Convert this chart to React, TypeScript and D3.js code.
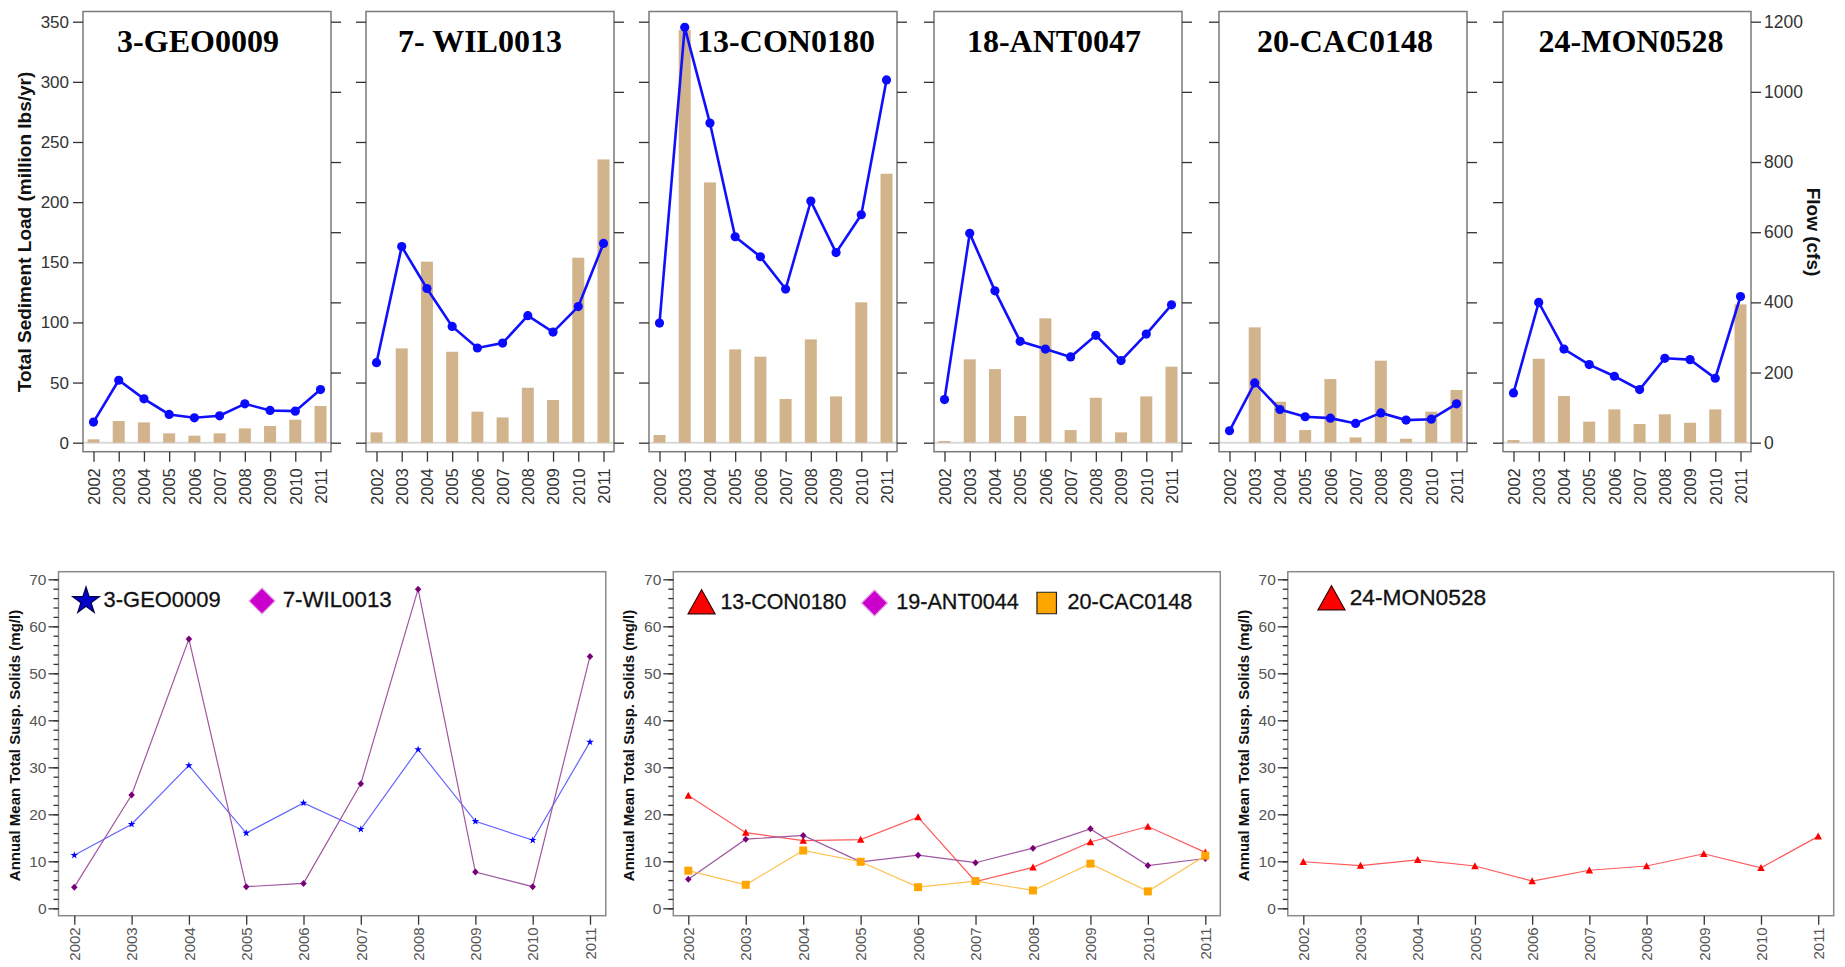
import * as d3 from "d3"
import { useEffect, useRef } from "react"

const years = ["2002", "2003", "2004", "2005", "2006", "2007", "2008", "2009", "2010", "2011"]

// top row: sediment load (bars, left axis) and flow (line, right axis)
const topSites = ["3-GEO0009", "7- WIL0013", "13-CON0180", "18-ANT0047", "20-CAC0148", "24-MON0528"]

const loadGEO0009 = [2.8, 18, 16.9, 7.8, 5.8, 7.8, 11.9, 13.9, 19.1, 30.5]
const loadWIL0013 = [8.6, 78.4, 150.5, 75.6, 25.8, 21, 45.7, 35.5, 153.8, 235.5]
const loadCON0180 = [6.4, 343, 216.4, 77.6, 71.5, 36.3, 85.9, 38.5, 116.7, 223.6]
const loadANT0047 = [1.4, 69.3, 61.2, 22.2, 103.4, 10.5, 37.4, 8.6, 38.5, 63.2]
const loadCAC0148 = [0, 95.9, 34.1, 10.5, 52.9, 4.4, 68.2, 3.3, 25.8, 43.8]
const loadMON0528 = [2.2, 69.8, 38.8, 17.5, 27.7, 15.5, 23.6, 16.6, 27.7, 115]

const flowGEO0009 = [58.7, 178, 125, 80.5, 71, 76.7, 110.8, 91.9, 90, 151.5]
const flowWIL0013 = [228, 559, 439.5, 331.5, 270, 284, 362, 315.4, 388, 568]
const flowCON0180 = [341, 1184, 911, 587, 530, 438, 688.6, 541.8, 649.7, 1034]
const flowANT0047 = [123, 596.7, 432.8, 288.9, 267, 244.4, 306, 234, 309.7, 393]
const flowCAC0148 = [34, 170.5, 94.7, 73.9, 70, 55, 85, 64.4, 67, 110.8]
const flowMON0528 = [142, 399.7, 267, 222.6, 189.4, 151.5, 240.6, 236.8, 183.7, 416.7]

const loads = [loadGEO0009, loadWIL0013, loadCON0180, loadANT0047, loadCAC0148, loadMON0528]
const flows = [flowGEO0009, flowWIL0013, flowCON0180, flowANT0047, flowCAC0148, flowMON0528]

const loadTicks = [0, 50, 100, 150, 200, 250, 300, 350]
const flowTicks = [0, 200, 400, 600, 800, 1000, 1200]

// bottom row: annual mean total suspended solids
const tssTicks = [0, 10, 20, 30, 40, 50, 60, 70]
const tssGEO0009 = [11.3, 17.9, 30.4, 16.0, 22.4, 16.8, 33.8, 18.5, 14.5, 35.4]
const tssWIL0013 = [4.5, 24.1, 57.3, 4.6, 5.3, 26.5, 67.9, 7.7, 4.6, 53.6]
const tssCON0180 = [24.0, 16.1, 14.4, 14.6, 19.4, 5.7, 8.7, 14.1, 17.4, 11.9]
const tssANT0044 = [6.2, 14.7, 15.5, 9.9, 11.3, 9.7, 12.8, 16.9, 9.1, 10.6]
const tssCAC0148 = [8.0, 5.0, 12.3, 9.9, 4.5, 5.8, 3.8, 9.5, 3.6, 11.2]
const tssMON0528 = [9.9, 9.1, 10.3, 9.0, 5.8, 8.1, 9.0, 11.6, 8.6, 15.3]

const bottomPanels = [
    [
        { name: "3-GEO0009", values: tssGEO0009, shape: "star", line: "#6464ff", mark: "#0000ff", legend: "#0000c8", legendStroke: "#00004a" },
        { name: "7-WIL0013", values: tssWIL0013, shape: "diamond", line: "#a057a0", mark: "#7a007a", legend: "#cc00cc", legendStroke: "#e6a6e6" },
    ],
    [
        { name: "13-CON0180", values: tssCON0180, shape: "triangle", line: "#ff5a5a", mark: "#ff0000", legend: "#ff0000", legendStroke: "#3a0000" },
        { name: "19-ANT0044", values: tssANT0044, shape: "diamond", line: "#a057a0", mark: "#7a007a", legend: "#cc00cc", legendStroke: "#e6a6e6" },
        { name: "20-CAC0148", values: tssCAC0148, shape: "square", line: "#ffc24f", mark: "#ffa500", legend: "#ffa500", legendStroke: "#222222" },
    ],
    [
        { name: "24-MON0528", values: tssMON0528, shape: "triangle", line: "#ff5a5a", mark: "#ff0000", legend: "#ff0000", legendStroke: "#3a0000" },
    ],
]

const font = "'Liberation Sans', Arial, sans-serif"

const shapePath = (kind, w, h) => {
    if (kind === "star") return d3.symbol(d3.symbolStar, (w / 2) * (w / 2) / 0.8908)()
    if (kind === "diamond") return `M0,${-h / 2}L${w / 2},0L0,${h / 2}L${-w / 2},0Z`
    if (kind === "triangle") return `M0,${-h * 0.55}L${w / 2},${h * 0.45}L${-w / 2},${h * 0.45}Z`
    return `M${-w / 2},${-h / 2}h${w}v${h}h${-w}Z`
}

const styleAxis = (g, size, color) => {
    g.select(".domain").remove()
    g.selectAll("line").attr("stroke", "#333").attr("stroke-width", 1.3)
    g.selectAll("text").attr("font-family", font).attr("font-size", size).attr("fill", color)
}

const App = () => {
    const svgRef = useRef(null)

    useEffect(() => {
        const svg = d3.select(svgRef.current)
        svg.selectAll("*").remove()

        // ---------- top row ----------
        const topLefts = [83, 366, 649, 934, 1219, 1503]
        const topW = 248
        const topTop = 11.5, topBottom = 451.7
        const titleShift = [-9, -10, 13, -4, 2, 4]
        const yLoad = d3.scaleLinear().domain([0, 350]).range([442.7, 21.7])
        const yFlow = d3.scaleLinear().domain([0, 1200]).range([442.7, 21.7])

        topSites.forEach((site, i) => {
            const left = topLefts[i]
            const right = left + topW
            const g = svg.append("g")
            const x = d3.scalePoint().domain(years).range([left + 10.5, right - 10.5])

            g.append("line")
                .attr("x1", left).attr("x2", right)
                .attr("y1", yLoad(0)).attr("y2", yLoad(0))
                .attr("stroke", "#d9d9d9").attr("stroke-width", 2)

            g.selectAll("rect.bar")
                .data(loads[i])
                .join("rect")
                .attr("class", "bar")
                .attr("x", (d, j) => x(years[j]) - 6)
                .attr("width", 12)
                .attr("y", d => yLoad(d))
                .attr("height", d => yLoad(0) - yLoad(d))
                .attr("fill", "#d2b48c")

            const line = d3.line().x((d, j) => x(years[j])).y(d => yFlow(d))
            g.append("path")
                .datum(flows[i])
                .attr("d", line)
                .attr("fill", "none")
                .attr("stroke", "#1010ff")
                .attr("stroke-width", 2.6)
            g.selectAll("circle")
                .data(flows[i])
                .join("circle")
                .attr("cx", (d, j) => x(years[j]))
                .attr("cy", d => yFlow(d))
                .attr("r", 4.6)
                .attr("fill", "#0a0aff")

            g.append("rect")
                .attr("x", left).attr("y", topTop)
                .attr("width", topW).attr("height", topBottom - topTop)
                .attr("fill", "none").attr("stroke", "#7a7a7a").attr("stroke-width", 1.5)

            const la = g.append("g").attr("transform", `translate(${left},0)`)
                .call(d3.axisLeft(yLoad).tickValues(loadTicks).tickSize(10).tickPadding(4)
                    .tickFormat(i === 0 ? d3.format("d") : () => ""))
            styleAxis(la, 17, "#333")

            const ra = g.append("g").attr("transform", `translate(${right},0)`)
                .call(d3.axisRight(yFlow).tickValues(flowTicks).tickSize(10).tickPadding(3)
                    .tickFormat(i === topSites.length - 1 ? d3.format("d") : () => ""))
            styleAxis(ra, 17.5, "#333")

            const xa = g.append("g").attr("transform", `translate(0,${topBottom})`)
                .call(d3.axisBottom(x).tickSize(10))
            styleAxis(xa, 16.5, "#333")
            xa.selectAll("text")
                .attr("transform", "rotate(-90)")
                .attr("x", -16.5).attr("y", 0).attr("dy", "0.35em")
                .attr("text-anchor", "end")

            g.append("text")
                .attr("x", (left + right) / 2 + titleShift[i])
                .attr("y", 52)
                .attr("text-anchor", "middle")
                .attr("font-family", "'Liberation Serif', 'Times New Roman', serif")
                .attr("font-weight", "bold")
                .attr("font-size", 32)
                .attr("fill", "#000")
                .text(site)
        })

        svg.append("text")
            .attr("transform", "translate(24,232) rotate(-90)")
            .attr("text-anchor", "middle")
            .attr("dominant-baseline", "central")
            .attr("font-family", font).attr("font-weight", "bold").attr("font-size", 19)
            .attr("fill", "#111")
            .text("Total Sediment Load (million lbs/yr)")

        svg.append("text")
            .attr("transform", "translate(1813,232) rotate(90)")
            .attr("text-anchor", "middle")
            .attr("dominant-baseline", "central")
            .attr("font-family", font).attr("font-weight", "bold").attr("font-size", 19)
            .attr("fill", "#111")
            .text("Flow (cfs)")

        // ---------- bottom row ----------
        const frames = [[58.5, 605.8], [673.3, 1220.3], [1287.8, 1833.7]]
        const xPad = [15.8, 15, 15.5]
        const yTitleX = [14.5, 628.5, 1243.5]
        const legendX = [[86, 262], [701.6, 874.5, 1046.7], [1331.5]]
        const legendTextX = [[103.6, 282.7], [720.4, 896.2, 1067.4], [1349.7]]
        const legendTextW = [[117, 109], [126, 122.6, 125], [136.5]]
        const legendY = [601, 603, 599]
        const legendBase = [606.7, 609, 605]
        const legendWH = { star: [28, 26], diamond: [26, 26], triangle: [27, 24], square: [19.5, 21.5] }
        const markWH = { star: [8, 8], diamond: [6.5, 7], triangle: [7.5, 7], square: [8, 8] }
        const bTop = 571.7, bBottom = 915.7
        const yTss = d3.scaleLinear().domain([0, 70]).range([908.3, 579.3])

        bottomPanels.forEach((series, p) => {
            const [left, right] = frames[p]
            const g = svg.append("g")
            const x = d3.scalePoint().domain(years).range([left + xPad[p], right - xPad[p]])

            series.forEach(s => {
                const line = d3.line().x((d, j) => x(years[j])).y(d => yTss(d))
                g.append("path")
                    .datum(s.values)
                    .attr("d", line)
                    .attr("fill", "none")
                    .attr("stroke", s.line)
                    .attr("stroke-width", 1.2)
                g.selectAll(null)
                    .data(s.values)
                    .join("path")
                    .attr("transform", (d, j) => `translate(${x(years[j])},${yTss(d)})`)
                    .attr("d", shapePath(s.shape, markWH[s.shape][0], markWH[s.shape][1]))
                    .attr("fill", s.mark)
            })

            g.append("rect")
                .attr("x", left).attr("y", bTop)
                .attr("width", right - left).attr("height", bBottom - bTop)
                .attr("fill", "none").attr("stroke", "#8a8a8a").attr("stroke-width", 1.5)

            const minor = g.append("g").attr("transform", `translate(${left},0)`)
                .call(d3.axisLeft(yTss).tickValues(d3.range(0, 71, 2)).tickSize(5).tickFormat(() => ""))
            styleAxis(minor, 14, "#555")
            const major = g.append("g").attr("transform", `translate(${left},0)`)
                .call(d3.axisLeft(yTss).tickValues(tssTicks).tickSize(10).tickPadding(2))
            styleAxis(major, 15.5, "#555")

            const xa = g.append("g").attr("transform", `translate(0,${bBottom})`)
                .call(d3.axisBottom(x).tickSize(9))
            styleAxis(xa, 15, "#555")
            xa.selectAll("text")
                .attr("transform", "rotate(-90)")
                .attr("x", -11.6).attr("y", 0).attr("dy", "0.35em")
                .attr("text-anchor", "end")

            g.append("text")
                .attr("transform", `translate(${yTitleX[p]},745.5) rotate(-90)`)
                .attr("text-anchor", "middle")
                .attr("dominant-baseline", "central")
                .attr("font-family", font).attr("font-weight", "bold").attr("font-size", 15)
                .attr("fill", "#111")
                .text("Annual Mean Total Susp. Solids (mg/l)")

            series.forEach((s, k) => {
                const [w, h] = legendWH[s.shape]
                g.append("path")
                    .attr("transform", `translate(${legendX[p][k]},${legendY[p]})`)
                    .attr("d", shapePath(s.shape, w, h))
                    .attr("fill", s.legend)
                    .attr("stroke", s.legendStroke)
                    .attr("stroke-width", 1.2)
                g.append("text")
                    .attr("x", legendTextX[p][k])
                    .attr("y", legendBase[p])
                    .attr("font-family", font).attr("font-size", 22)
                    .attr("textLength", legendTextW[p][k])
                    .attr("lengthAdjust", "spacingAndGlyphs")
                    .attr("fill", "#111")
                    .attr("stroke", "#111").attr("stroke-width", 0.3)
                    .text(s.name)
            })
        })
    }, [])

    return (
        <svg ref={svgRef} width={1845} height={967}
            style={{ position: "absolute", left: 0, top: 0, background: "#fff" }}></svg>
    )
}

export default App
